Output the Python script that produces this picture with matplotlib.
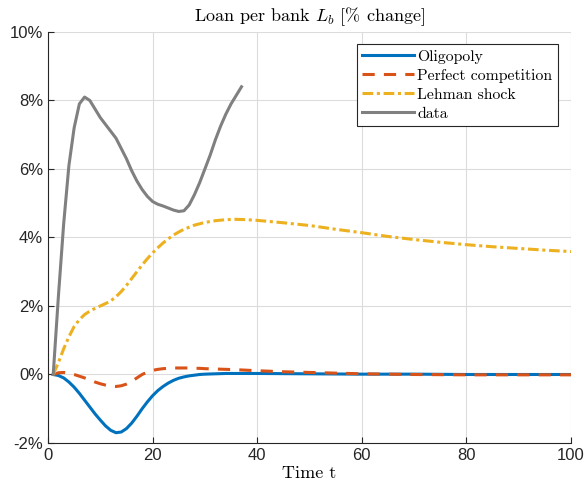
import matplotlib
matplotlib.use('Agg')
import matplotlib.pyplot as plt

plt.rcParams['mathtext.fontset'] = 'cm'
plt.rcParams['font.family'] = ['Liberation Sans', 'DejaVu Sans']

# time axis for the model series
t_model = [1, 2, 3, 4, 5, 6, 7, 8, 9, 10, 11, 12, 13, 14, 15, 16, 17, 18, 19, 20,
           21, 22, 23, 24, 25, 26, 27, 28, 29, 30, 32, 34, 36, 38, 40, 45, 50, 55,
           60, 65, 70, 75, 80, 85, 90, 95, 100]

oligopoly = [0, -0.03, -0.10, -0.22, -0.37, -0.55, -0.75, -0.95, -1.15, -1.33,
             -1.50, -1.63, -1.70, -1.68, -1.58, -1.42, -1.22, -1.00, -0.80, -0.62,
             -0.47, -0.35, -0.25, -0.17, -0.11, -0.07, -0.04, -0.02, 0.0, 0.01,
             0.02, 0.03, 0.03, 0.03, 0.03, 0.025, 0.02, 0.015, 0.01, 0.01, 0.01,
             0.005, 0.0, 0.0, 0.0, 0.0, 0.0]

perfect = [0, 0.05, 0.06, 0.04, 0.0, -0.05, -0.10, -0.16, -0.22, -0.27,
           -0.31, -0.34, -0.35, -0.33, -0.28, -0.20, -0.10, 0.0, 0.07, 0.12,
           0.15, 0.17, 0.18, 0.19, 0.19, 0.19, 0.19, 0.18, 0.18, 0.17,
           0.16, 0.15, 0.14, 0.125, 0.11, 0.08, 0.06, 0.04, 0.02, 0.01, 0.0,
           -0.005, -0.01, -0.01, -0.01, -0.01, -0.01]

lehman = [0, 0.35, 0.75, 1.10, 1.40, 1.60, 1.75, 1.85, 1.93, 2.00,
          2.07, 2.15, 2.27, 2.42, 2.60, 2.80, 3.00, 3.20, 3.38, 3.55,
          3.70, 3.84, 3.96, 4.07, 4.16, 4.24, 4.30, 4.36, 4.40, 4.44,
          4.49, 4.52, 4.53, 4.52, 4.50, 4.43, 4.35, 4.24, 4.14, 4.03, 3.94,
          3.86, 3.79, 3.73, 3.68, 3.63, 3.59]

# observed data
t_data = list(range(1, 38))
data = [0, 2.3, 4.4, 6.1, 7.2, 7.9, 8.1, 8.0, 7.75, 7.5,
        7.3, 7.1, 6.9, 6.6, 6.3, 5.95, 5.65, 5.4, 5.2, 5.05,
        4.97, 4.92, 4.86, 4.8, 4.76, 4.78, 4.95, 5.25, 5.6, 6.0,
        6.4, 6.85, 7.25, 7.6, 7.9, 8.15, 8.4]

yticks = [-2, 0, 2, 4, 6, 8, 10]
ytick_labels = ['-2%', '0%', '2%', '4%', '6%', '8%', '10%']
xticks = [0, 20, 40, 60, 80, 100]

fig = plt.figure(figsize=(5.88, 4.92), dpi=100)
ax = fig.add_axes([0.0816, 0.0996, 0.8895, 0.8354])

serif = {'family': 'cmr10'}

ax.plot(t_model, oligopoly, color='#0072BD', lw=2.2, label='Oligopoly')
ax.plot(t_model, perfect, color='#D95319', lw=2.2, ls=(0, (4, 3)), label='Perfect competition')
ax.plot(t_model, lehman, color='#EDB120', lw=2.2, ls=(0, (3.5, 1.2, 1, 1.2)), label='Lehman shock')
ax.plot(t_data, data, color='#808080', lw=2.2, label='data')

ax.set_xlim(0, 100)
ax.set_ylim(-2, 10)
ax.set_xticks(xticks)
ax.set_yticks(yticks)
ax.set_yticklabels(ytick_labels)
ax.tick_params(direction='in', length=4, labelsize=12, colors='#262626', width=0.8)
for lab in ax.get_xticklabels() + ax.get_yticklabels():
    lab.set_color('#262626')

ax.grid(True, color='#DCDCDC', lw=0.8)
ax.set_axisbelow(True)
for s in ['top', 'right']:
    ax.spines[s].set_visible(False)
for s in ['left', 'bottom']:
    ax.spines[s].set_color('#262626')
    ax.spines[s].set_linewidth(0.8)

ax.set_title(r'Loan per bank $L_b$ [% change]', fontsize=13, fontdict=serif, pad=8)
ax.set_xlabel('Time t', fontsize=13, fontdict=serif, labelpad=2)

leg = ax.legend(loc='upper right', bbox_to_anchor=(0.975, 0.97), prop={'family': 'cmr10', 'size': 11.3},
                fancybox=False, edgecolor='#262626', framealpha=1, handlelength=3.3,
                handletextpad=0.2, borderpad=0.35, labelspacing=0.32, borderaxespad=0)
leg.get_frame().set_linewidth(0.8)

fig.savefig('out.png', dpi=100)
